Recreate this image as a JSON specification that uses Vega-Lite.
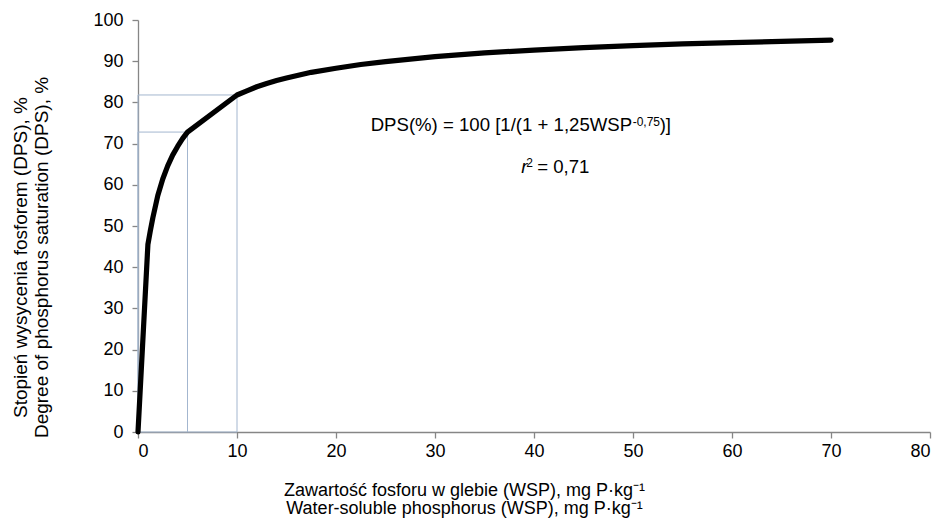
{
  "$schema": "https://vega.github.io/schema/vega-lite/v6.json",
  "width": 792,
  "height": 412,
  "autosize": "none",
  "padding": {"left": 138, "top": 20, "right": 11, "bottom": 86},
  "config": {
    "view": {"stroke": null},
    "font": "Liberation Sans",
    "axis": {
      "domainColor": "#868686",
      "tickColor": "#868686",
      "tickSize": 6,
      "domainWidth": 1.3,
      "tickWidth": 1.3,
      "grid": false,
      "labelFontSize": 18,
      "labelColor": "#000000",
      "labelFont": "Liberation Sans",
      "titleFont": "Liberation Sans",
      "titleFontWeight": "normal",
      "titleColor": "#000000"
    }
  },
  "datasets": {
    "curve": [
      {"wsp": 0, "dps": 0},
      {"wsp": 1, "dps": 45.5},
      {"wsp": 1.25, "dps": 48.9},
      {"wsp": 1.5, "dps": 52.0},
      {"wsp": 2, "dps": 57.4},
      {"wsp": 2.5, "dps": 61.4},
      {"wsp": 3, "dps": 64.6},
      {"wsp": 3.5, "dps": 67.2},
      {"wsp": 4, "dps": 69.3},
      {"wsp": 4.5, "dps": 71.2},
      {"wsp": 5, "dps": 72.8},
      {"wsp": 10, "dps": 81.8},
      {"wsp": 11, "dps": 82.8},
      {"wsp": 12, "dps": 83.8},
      {"wsp": 13, "dps": 84.6},
      {"wsp": 14, "dps": 85.3},
      {"wsp": 15, "dps": 85.9},
      {"wsp": 17.5, "dps": 87.3},
      {"wsp": 20, "dps": 88.3},
      {"wsp": 22.5, "dps": 89.2},
      {"wsp": 25, "dps": 89.9},
      {"wsp": 30, "dps": 91.1},
      {"wsp": 35, "dps": 92.0},
      {"wsp": 40, "dps": 92.7},
      {"wsp": 45, "dps": 93.3},
      {"wsp": 50, "dps": 93.8},
      {"wsp": 55, "dps": 94.2},
      {"wsp": 60, "dps": 94.5},
      {"wsp": 65, "dps": 94.8},
      {"wsp": 70, "dps": 95.1}
    ],
    "guides": [
      {"g": "a", "o": 1, "wsp": 0, "dps": 0},
      {"g": "a", "o": 2, "wsp": 0, "dps": 81.8},
      {"g": "a", "o": 3, "wsp": 10, "dps": 81.8},
      {"g": "a", "o": 4, "wsp": 10, "dps": 0},
      {"g": "a", "o": 5, "wsp": 0, "dps": 0},
      {"g": "b", "o": 1, "wsp": 0, "dps": 0},
      {"g": "b", "o": 2, "wsp": 0, "dps": 72.8},
      {"g": "b", "o": 3, "wsp": 5, "dps": 72.8},
      {"g": "b", "o": 4, "wsp": 5, "dps": 0}
    ],
    "formula": [{"wsp": 23.5, "dps": 73.1}],
    "r2": [{"wsp": 38.7, "dps": 62.94}]
  },
  "layer": [
    {
      "data": {"name": "guides"},
      "mark": {"type": "line", "color": "#a3b6cf", "strokeWidth": 1},
      "encoding": {
        "x": {"field": "wsp", "type": "quantitative", "scale": {"domain": [0, 80], "nice": false},
          "axis": {"values": [0, 10, 20, 30, 40, 50, 60, 70, 80], "labelPadding": 4,
            "title": ["Zawartość fosforu w glebie (WSP), mg P·kg⁻¹", "Water-soluble phosphorus (WSP), mg P·kg⁻¹"],
            "titleFontSize": 18, "titleLineHeight": 18, "titleX": 326, "titleY": 63,
            "titleAlign": "center", "titleBaseline": "alphabetic"}},
        "y": {"field": "dps", "type": "quantitative", "scale": {"domain": [0, 100], "nice": false},
          "axis": {"values": [0, 10, 20, 30, 40, 50, 60, 70, 80, 90, 100], "labelPadding": 9,
            "title": ["Stopień wysycenia fosforem (DPS), %", "Degree of phosphorus saturation (DPS), %"],
            "titleFontSize": 19, "titleLineHeight": 21, "titleX": -112, "titleY": 237,
            "titleAngle": 270, "titleAlign": "center", "titleBaseline": "alphabetic"}},
        "detail": {"field": "g"},
        "order": {"field": "o", "type": "quantitative"}
      }
    },
    {
      "data": {"name": "curve"},
      "mark": {"type": "line", "color": "#000000", "strokeWidth": 5.2, "strokeCap": "round", "strokeJoin": "round"},
      "encoding": {
        "x": {"field": "wsp", "type": "quantitative"},
        "y": {"field": "dps", "type": "quantitative"}
      }
    },
    {
      "data": {"name": "formula"},
      "mark": {"type": "text", "align": "left", "baseline": "alphabetic", "fontSize": 18.6, "color": "#000000", "text": "DPS(%) = 100 [1/(1 + 1,25WSP"},
      "encoding": {
        "x": {"field": "wsp", "type": "quantitative"},
        "y": {"field": "dps", "type": "quantitative"}
      }
    },
    {
      "data": {"name": "formula"},
      "mark": {"type": "text", "align": "left", "baseline": "alphabetic", "fontSize": 12, "dx": 262, "dy": -5, "color": "#000000", "text": "-0,75"},
      "encoding": {
        "x": {"field": "wsp", "type": "quantitative"},
        "y": {"field": "dps", "type": "quantitative"}
      }
    },
    {
      "data": {"name": "formula"},
      "mark": {"type": "text", "align": "left", "baseline": "alphabetic", "fontSize": 18.6, "dx": 289, "color": "#000000", "text": ")]"},
      "encoding": {
        "x": {"field": "wsp", "type": "quantitative"},
        "y": {"field": "dps", "type": "quantitative"}
      }
    },
    {
      "data": {"name": "r2"},
      "mark": {"type": "text", "align": "left", "baseline": "alphabetic", "fontSize": 18.6, "fontStyle": "italic", "color": "#000000", "text": "r"},
      "encoding": {
        "x": {"field": "wsp", "type": "quantitative"},
        "y": {"field": "dps", "type": "quantitative"}
      }
    },
    {
      "data": {"name": "r2"},
      "mark": {"type": "text", "align": "left", "baseline": "alphabetic", "fontSize": 12, "dx": 5, "dy": -6, "color": "#000000", "text": "2"},
      "encoding": {
        "x": {"field": "wsp", "type": "quantitative"},
        "y": {"field": "dps", "type": "quantitative"}
      }
    },
    {
      "data": {"name": "r2"},
      "mark": {"type": "text", "align": "left", "baseline": "alphabetic", "fontSize": 18.6, "dx": 16, "color": "#000000", "text": "= 0,71"},
      "encoding": {
        "x": {"field": "wsp", "type": "quantitative"},
        "y": {"field": "dps", "type": "quantitative"}
      }
    }
  ]
}
